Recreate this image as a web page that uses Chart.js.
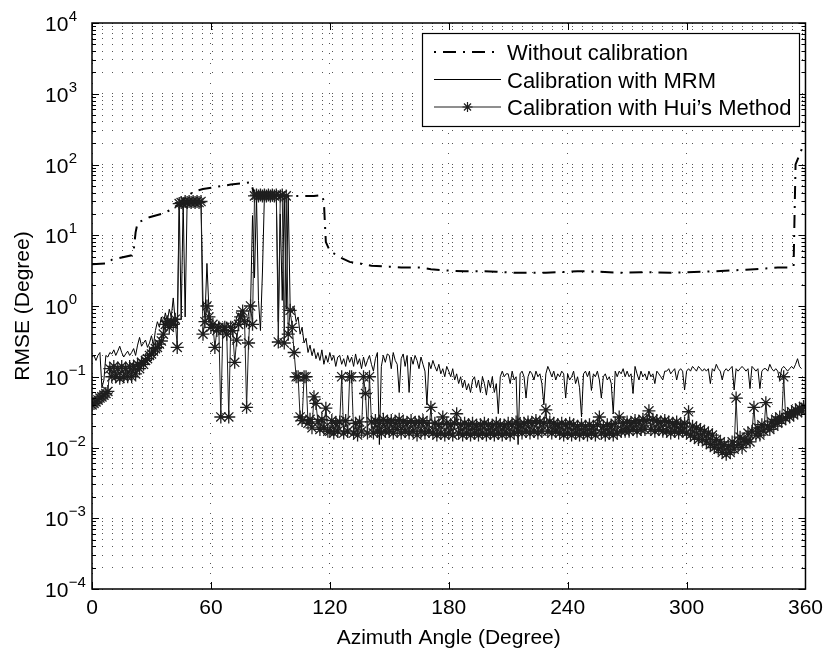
<!DOCTYPE html>
<html>
<head>
<meta charset="utf-8">
<script src="https://cdn.jsdelivr.net/npm/chart.js@4.4.1/dist/chart.umd.min.js"></script>
<style>
html,body{margin:0;padding:0;background:#fff;}
#wrap{width:830px;height:651px;position:relative;}
canvas{display:block;}
</style>
</head>
<body>
<div id="wrap"><canvas id="c" width="830" height="651"></canvas></div>
<script>
// ---------------- DATA ----------------
const angles = [
0,1,2,3,4,5,6,7,8,9,10,11,12,13,14,15,16,17,18,19,20,21,22,23,24,25,26,27,28,29,
30,31,32,33,34,35,36,37,38,39,40,41,42,43,44,45,46,47,48,49,50,51,52,53,54,55,56,57,58,59,
60,61,62,63,64,65,66,67,68,69,70,71,72,73,74,75,76,77,78,79,80,81,82,83,84,85,86,87,88,89,
90,91,92,93,94,95,96,97,98,99,100,101,102,103,104,105,106,107,108,109,110,111,112,113,114,115,116,117,118,119,
120,121,122,123,124,125,126,127,128,129,130,131,132,133,134,135,136,137,138,139,140,141,142,143,144,145,146,147,148,149,
150,151,152,153,154,155,156,157,158,159,160,161,162,163,164,165,166,167,168,169,170,171,172,173,174,175,176,177,178,179,
180,181,182,183,184,185,186,187,188,189,190,191,192,193,194,195,196,197,198,199,200,201,202,203,204,205,206,207,208,209,
210,211,212,213,214,215,216,217,218,219,220,221,222,223,224,225,226,227,228,229,230,231,232,233,234,235,236,237,238,239,
240,241,242,243,244,245,246,247,248,249,250,251,252,253,254,255,256,257,258,259,260,261,262,263,264,265,266,267,268,269,
270,271,272,273,274,275,276,277,278,279,280,281,282,283,284,285,286,287,288,289,290,291,292,293,294,295,296,297,298,299,
300,301,302,303,304,305,306,307,308,309,310,311,312,313,314,315,316,317,318,319,320,321,322,323,324,325,326,327,328,329,
330,331,332,333,334,335,336,337,338,339,340,341,342,343,344,345,346,347,348,349,350,351,352,353,354,355,356,357,358,359,360];

const mrmRmse = [
0.19,0.2,0.17,0.2,0.22,0.07,0.09,0.2,0.19,0.22,
0.21,0.24,0.2,0.23,0.27,0.22,0.19,0.21,0.23,0.2,
0.22,0.25,0.2,0.28,0.36,0.27,0.3,0.33,0.26,0.3,
0.38,0.28,0.45,0.6,0.5,0.7,0.55,0.8,0.6,0.9,
0.7,1.3,0.6,0.5,30,0.65,30,0.7,30,31,
30,31,29,30,31,30,1.2,0.7,4,0.9,
0.6,0.5,0.55,0.45,0.6,0.5,0.55,0.45,0.6,0.5,
0.55,0.6,0.5,0.7,0.8,0.6,0.9,0.7,0.5,0.8,
1.0,19,2.5,36,1.2,0.45,3,37,38,37,
38,37,38,37,0.6,20,1.2,36,0.9,35,
0.9,0.8,0.95,0.6,0.7,0.4,0.5,0.3,0.35,0.22,
0.28,0.2,0.25,0.18,0.22,0.17,0.24,0.15,0.2,0.16,
0.22,0.17,0.2,0.14,0.19,0.2,0.15,0.18,0.14,0.2,
0.16,0.19,0.14,0.21,0.15,0.18,0.13,0.19,0.14,0.17,
0.2,0.15,0.12,0.18,0.22,0.011,0.14,0.2,0.16,0.21,
0.2,0.13,0.22,0.17,0.15,0.06,0.18,0.21,0.14,0.2,
0.06,0.19,0.15,0.2,0.17,0.13,0.19,0.15,0.12,0.04,
0.16,0.13,0.17,0.14,0.12,0.15,0.11,0.13,0.1,0.14,
0.12,0.1,0.13,0.09,0.11,0.08,0.1,0.07,0.09,0.065,
0.08,0.06,0.09,0.1,0.07,0.09,0.06,0.1,0.08,0.055,
0.09,0.07,0.1,0.06,0.08,0.03,0.1,0.12,0.1,0.11,
0.11,0.08,0.12,0.09,0.1,0.011,0.11,0.12,0.1,0.05,
0.1,0.12,0.11,0.09,0.12,0.1,0.11,0.08,0.04,0.11,
0.14,0.12,0.1,0.12,0.09,0.11,0.1,0.12,0.11,0.05,
0.11,0.09,0.1,0.12,0.08,0.1,0.07,0.027,0.11,0.12,
0.1,0.12,0.064,0.11,0.1,0.12,0.09,0.05,0.1,0.11,
0.09,0.1,0.08,0.03,0.12,0.1,0.12,0.11,0.13,0.1,
0.12,0.1,0.11,0.058,0.14,0.11,0.09,0.12,0.1,0.11,
0.09,0.12,0.1,0.11,0.08,0.12,0.11,0.1,0.09,0.12,
0.12,0.13,0.11,0.12,0.13,0.09,0.12,0.13,0.12,0.065,
0.12,0.13,0.12,0.14,0.13,0.12,0.14,0.13,0.12,0.13,
0.12,0.13,0.08,0.13,0.12,0.15,0.13,0.12,0.09,0.12,
0.13,0.12,0.13,0.14,0.065,0.13,0.12,0.13,0.14,0.13,
0.12,0.13,0.068,0.14,0.13,0.12,0.13,0.068,0.12,0.13,
0.13,0.12,0.15,0.13,0.12,0.13,0.12,0.09,0.13,0.14,
0.13,0.12,0.13,0.14,0.13,0.15,0.18,0.14,0.13,null,null];

const huiRmse = [
0.04,0.042,0.044,0.047,0.05,0.052,0.055,0.058,0.062,0.13,
0.1,0.14,0.1,0.13,0.095,0.14,0.1,0.13,0.1,0.14,
0.1,0.14,0.11,0.15,0.13,0.16,0.15,0.17,0.18,0.2,
0.21,0.23,0.25,0.26,0.29,0.32,0.4,0.55,0.6,0.5,
0.6,0.55,0.65,0.26,28,29,28,30,29,30,
29,30,29,30,29,30,0.4,0.6,1.0,0.7,
0.5,0.55,0.26,0.45,0.5,0.027,0.45,0.5,0.4,0.027,
0.5,0.45,0.16,0.33,0.55,0.7,0.85,0.6,0.037,0.3,
1.0,0.55,36,37,36,37,36,37,36,37,
36,37,36,37,0.31,36,37,0.3,36,0.4,
0.87,0.5,0.22,0.1,0.1,0.027,0.024,0.1,0.1,0.022,
0.025,0.019,0.052,0.042,0.023,0.018,0.025,0.019,0.036,0.017,
0.017,0.024,0.016,0.022,0.017,0.023,0.1,0.016,0.024,0.017,
0.1,0.1,0.016,0.022,0.015,0.023,0.017,0.1,0.058,0.016,
0.1,0.023,0.016,0.024,0.017,0.022,0.016,0.025,0.017,0.023,
0.017,0.024,0.016,0.022,0.018,0.025,0.016,0.023,0.017,0.022,
0.016,0.024,0.017,0.022,0.015,0.023,0.017,0.024,0.016,0.022,
0.017,0.037,0.016,0.022,0.015,0.021,0.016,0.027,0.015,0.022,
0.016,0.021,0.015,0.022,0.03,0.016,0.021,0.015,0.022,0.016,
0.021,0.015,0.022,0.016,0.02,0.015,0.021,0.016,0.022,0.015,
0.021,0.016,0.02,0.015,0.022,0.016,0.021,0.015,0.02,0.016,
0.022,0.015,0.021,0.016,0.023,0.017,0.021,0.016,0.022,0.017,
0.023,0.016,0.022,0.017,0.024,0.016,0.023,0.017,0.022,0.034,
0.017,0.023,0.016,0.022,0.017,0.021,0.016,0.022,0.015,0.021,
0.016,0.022,0.015,0.021,0.016,0.02,0.015,0.021,0.016,0.02,
0.015,0.021,0.016,0.02,0.015,0.021,0.027,0.016,0.02,0.015,
0.021,0.016,0.02,0.015,0.022,0.016,0.027,0.017,0.022,0.017,
0.023,0.017,0.022,0.018,0.024,0.017,0.023,0.018,0.025,0.018,
0.024,0.033,0.018,0.025,0.017,0.024,0.018,0.023,0.017,0.024,
0.017,0.023,0.016,0.022,0.017,0.023,0.016,0.021,0.017,0.022,
0.016,0.032,0.015,0.02,0.014,0.019,0.013,0.018,0.013,0.017,
0.012,0.016,0.011,0.015,0.01,0.013,0.0095,0.012,0.0085,0.011,
0.008,0.0105,0.0085,0.012,0.0095,0.05,0.011,0.014,0.01,0.013,
0.012,0.016,0.012,0.017,0.037,0.015,0.019,0.015,0.021,0.017,
0.043,0.02,0.018,0.023,0.02,0.025,0.022,0.027,0.024,0.1,
0.026,0.03,0.027,0.032,0.029,0.034,0.031,0.036,0.033,0.038,0.037];

// "Without calibration" read at its turning points
const noCalAngles = [0,8,10,20,21,22,23,29,35,40,44,48,52,56,62,70,78,80,82,90,98,105,112,116,117,117.5,118,120,125,130,135,141,150,156,166,171,181,188,197,204,213,220,229,235,245,250,261,267,277,282,292,299,308,315,324,330,340,346,352,354,354.5,355,359];
const noCalRmse   = [3.9,4.0,4.5,5.2,6,11,15,18,20,23,28,36,42,45,48,52,55,56,38,37,36,36,36,37,30,15,8,6,4.9,4.2,4.0,3.7,3.6,3.5,3.5,3.3,3.15,3.1,3.1,3.05,2.95,2.95,2.95,3.0,3.1,3.1,3.0,2.95,3.0,3.0,2.95,3.0,3.05,3.1,3.2,3.25,3.4,3.5,3.5,3.6,20,100,190];

const xTickValues = [0,60,120,180,240,300,360];
const yTickExponents = [-4,-3,-2,-1,0,1,2,3,4];
const seriesNames = ['Without calibration','Calibration with MRM','Calibration with Hui\u2019s Method'];
const xTitle = 'Azimuth Angle (Degree)';
const yTitle = 'RMSE (Degree)';

// ---------------- STYLE ----------------
const FONT = '"Liberation Sans", Arial, Helvetica, sans-serif';
const TICK_PX = 21, SUP_PX = 15, LEG_PX = 22, TITLE_PX = 21;
const DASH = [13,7,2,7];
const HUI_COLOR = '#1e1e1e';

const yGridValues = [];
for (let i = 0; i < yTickExponents.length - 1; i++) {
  for (let m = 1; m <= 9; m++) yGridValues.push(m * Math.pow(10, yTickExponents[i]));
}
yGridValues.push(Math.pow(10, yTickExponents[yTickExponents.length - 1]));

function drawStar(ctx, sx, sy, r) {
  ctx.beginPath();
  for (let k = 0; k < 4; k++) {
    const a = k * Math.PI / 4;
    ctx.moveTo(sx - r * Math.cos(a), sy - r * Math.sin(a));
    ctx.lineTo(sx + r * Math.cos(a), sy + r * Math.sin(a));
  }
  ctx.stroke();
}

const decor = {
  id: 'decor',
  afterDatasetsDraw(chart) {
    const ctx = chart.ctx, ca = chart.chartArea;
    const xs = chart.scales.x, ys = chart.scales.y;
    ctx.save();
    ctx.strokeStyle = '#000';
    ctx.lineWidth = 1.5;
    ctx.setLineDash([]);
    ctx.strokeRect(ca.left, ca.top, ca.right - ca.left, ca.bottom - ca.top);
    ctx.lineWidth = 1;
    ctx.beginPath();
    xTickValues.forEach(v => {
      const px = Math.round(xs.getPixelForValue(v)) + 0.5;
      ctx.moveTo(px, ca.bottom); ctx.lineTo(px, ca.bottom - 7);
      ctx.moveTo(px, ca.top); ctx.lineTo(px, ca.top + 7);
    });
    yGridValues.forEach(v => {
      const py = Math.round(ys.getPixelForValue(v)) + 0.5;
      const major = Math.abs(Math.log10(v) - Math.round(Math.log10(v))) < 1e-9;
      const L = major ? 7 : 4;
      ctx.moveTo(ca.left, py); ctx.lineTo(ca.left + L, py);
      ctx.moveTo(ca.right, py); ctx.lineTo(ca.right - L, py);
    });
    ctx.stroke();

    // legend
    const lx = 422, ly = 33, lw = 377, lh = 93;
    ctx.fillStyle = '#fff';
    ctx.fillRect(lx, ly, lw, lh);
    ctx.strokeStyle = '#000';
    ctx.lineWidth = 1.2;
    ctx.strokeRect(lx + 0.5, ly + 0.5, lw, lh);
    const rows = [52, 79.5, 107];
    ctx.lineWidth = 2;
    ctx.setLineDash(DASH);
    ctx.lineDashOffset = 20;
    ctx.beginPath(); ctx.moveTo(434, rows[0]); ctx.lineTo(501, rows[0]); ctx.stroke();
    ctx.setLineDash([]);
    ctx.lineDashOffset = 0;
    ctx.lineWidth = 1;
    ctx.strokeStyle = '#000';
    ctx.beginPath(); ctx.moveTo(434, rows[1]); ctx.lineTo(501, rows[1]); ctx.stroke();
    ctx.strokeStyle = HUI_COLOR;
    ctx.beginPath(); ctx.moveTo(434, rows[2]); ctx.lineTo(501, rows[2]); ctx.stroke();
    ctx.lineWidth = 1.2;
    drawStar(ctx, 467.5, rows[2], 5);
    ctx.fillStyle = '#000';
    ctx.font = LEG_PX + 'px ' + FONT;
    ctx.textAlign = 'left';
    ctx.textBaseline = 'alphabetic';
    seriesNames.forEach((s, i) => ctx.fillText(s, 507, rows[i] + 8));
    ctx.restore();
  },
  afterDraw(chart) {
    const ctx = chart.ctx, ca = chart.chartArea;
    const ys = chart.scales.y;
    ctx.save();
    ctx.fillStyle = '#000';
    ctx.textAlign = 'left';
    ctx.textBaseline = 'alphabetic';
    yTickExponents.forEach(e => {
      const py = ys.getPixelForValue(Math.pow(10, e));
      ctx.font = TICK_PX + 'px ' + FONT;
      ctx.fillText('10', 45, py + 8);
      const w = ctx.measureText('10').width;
      ctx.font = SUP_PX + 'px ' + FONT;
      ctx.fillText(e < 0 ? '\u2212' + Math.abs(e) : String(e), 45 + w + 0.5, py - 2);
    });
    ctx.font = TITLE_PX + 'px ' + FONT;
    ctx.textAlign = 'center';
    ctx.fillText(xTitle, (ca.left + ca.right) / 2, 644);
    ctx.translate(29, (ca.top + ca.bottom) / 2);
    ctx.rotate(-Math.PI / 2);
    ctx.fillText(yTitle, 0, 0);
    ctx.restore();
  }
};

new Chart(document.getElementById('c'), {
  type: 'line',
  data: {
    labels: angles,
    datasets: [
      {
        label: seriesNames[2], data: huiRmse, order: 1,
        borderColor: HUI_COLOR, borderWidth: 1, pointStyle: 'star', pointRadius: 6.5,
        pointBorderColor: HUI_COLOR, pointBackgroundColor: 'rgba(0,0,0,0)', pointBorderWidth: 1.3,
        tension: 0, fill: false
      },
      {
        label: seriesNames[1], data: mrmRmse, order: 2,
        borderColor: '#000', borderWidth: 1, pointRadius: 0, tension: 0, fill: false, spanGaps: false
      },
      {
        label: seriesNames[0], data: noCalAngles.map((a, i) => ({x: a, y: noCalRmse[i]})), order: 3,
        borderColor: '#000', borderWidth: 2, borderDash: DASH, pointRadius: 0, tension: 0, fill: false
      }
    ]
  },
  options: {
    responsive: false,
    devicePixelRatio: 1,
    animation: false,
    events: [],
    layout: { padding: { top: 23, right: 21, left: 0, bottom: 0 } },
    plugins: { legend: { display: false }, tooltip: { enabled: false }, title: { display: false } },
    scales: {
      x: {
        type: 'linear', min: 0, max: 360,
        afterBuildTicks: s => { s.ticks = xTickValues.map(v => ({ value: v })); },
        afterFit: s => { s.height = 62; },
        ticks: { font: { family: FONT, size: TICK_PX }, color: '#000', padding: 7, maxRotation: 0, autoSkip: false },
        grid: { color: '#555', lineWidth: 1, drawTicks: false },
        border: { display: false, dash: [1, 9] }
      },
      y: {
        type: 'logarithmic', min: 1e-4, max: 1e4,
        afterBuildTicks: s => { s.ticks = yGridValues.map(v => ({ value: v })); },
        afterFit: s => { s.width = 92; },
        ticks: { display: false, autoSkip: false },
        grid: { color: '#555', lineWidth: 1, drawTicks: false },
        border: { display: false, dash: [1, 9] }
      }
    }
  },
  plugins: [decor]
});
</script>
</body>
</html>
